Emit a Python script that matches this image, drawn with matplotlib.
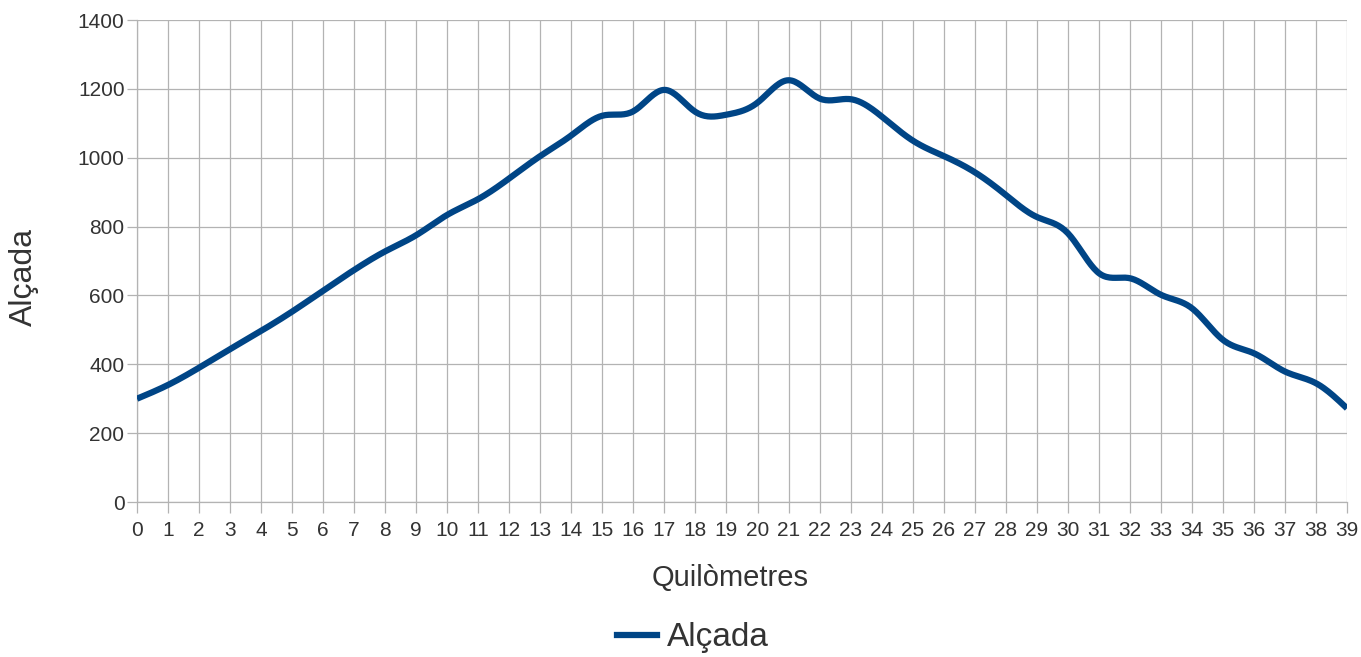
import numpy as np
import matplotlib.pyplot as plt
from matplotlib.lines import Line2D

# Data
km = list(range(40))
alcada = [300, 340, 390, 444, 497, 553, 614, 674, 728, 775,
          834, 880, 940, 1005, 1065, 1122, 1135, 1197, 1133, 1125,
          1160, 1225, 1172, 1170, 1120, 1050, 1005, 958, 892, 828,
          781, 665, 650, 602, 563, 471, 432, 379, 345, 272]
y_ticks = [0, 200, 400, 600, 800, 1000, 1200, 1400]

line_color = '#004586'
grid_color = '#b3b3b3'
text_color = '#333333'
plt.rcParams['font.family'] = ['Liberation Sans', 'DejaVu Sans']


def natural_spline(x, y, n=20):
    # natural cubic spline, like the "smooth line" option of the spreadsheet
    x = np.asarray(x, float)
    y = np.asarray(y, float)
    k = len(x)
    h = np.diff(x)
    A = np.zeros((k, k))
    b = np.zeros(k)
    A[0, 0] = A[-1, -1] = 1
    for i in range(1, k - 1):
        A[i, i - 1] = h[i - 1]
        A[i, i] = 2 * (h[i - 1] + h[i])
        A[i, i + 1] = h[i]
        b[i] = 3 * ((y[i + 1] - y[i]) / h[i] - (y[i] - y[i - 1]) / h[i - 1])
    c = np.linalg.solve(A, b)
    xs, ys = [], []
    for i in range(k - 1):
        t = np.linspace(0, h[i], n, endpoint=False)
        bi = (y[i + 1] - y[i]) / h[i] - h[i] * (2 * c[i] + c[i + 1]) / 3
        di = (c[i + 1] - c[i]) / (3 * h[i])
        xs.append(x[i] + t)
        ys.append(y[i] + bi * t + c[i] * t ** 2 + di * t ** 3)
    xs.append([x[-1]])
    ys.append([y[-1]])
    return np.concatenate(xs), np.concatenate(ys)


fig = plt.figure(figsize=(13.61, 6.57), dpi=100)
ax = fig.add_axes([137 / 1361, 1 - 502 / 657, 1210 / 1361, 482 / 657])

sx, sy = natural_spline(km, alcada)
ax.plot(sx, sy, color=line_color, linewidth=4.5, solid_capstyle='butt', zorder=3)

ax.set_xlim(0, 39)
ax.set_ylim(0, 1400)
ax.set_xticks(km)
ax.set_yticks(y_ticks)
ax.grid(True, color=grid_color, linewidth=0.9)
ax.set_axisbelow(True)
for name, s in ax.spines.items():
    s.set_color(grid_color)
    s.set_linewidth(0.9)
    s.set_visible(name in ('left', 'bottom'))
ax.tick_params(axis='both', direction='out', color=grid_color, width=0.9,
               labelsize=15, labelcolor=text_color)
ax.tick_params(axis='x', length=8, pad=6)
ax.tick_params(axis='y', length=7, pad=2)

fig.text(730 / 1361, 1 - 578 / 657, 'Quilòmetres', fontsize=21,
         color=text_color, ha='center', va='center')
fig.text(24 / 1361, 1 - 277 / 657, 'Alçada', fontsize=23, rotation=90,
         color=text_color, ha='center', va='center')

handle = Line2D([], [], color=line_color, linewidth=4.5)
fig.legend([handle], ['Alçada'], loc='center', bbox_to_anchor=(0.509, 0.029),
           frameon=False, fontsize=24, handlelength=1.2, handletextpad=0.3,
           labelcolor=text_color, borderpad=0)

fig.savefig('out.png', dpi=100)
